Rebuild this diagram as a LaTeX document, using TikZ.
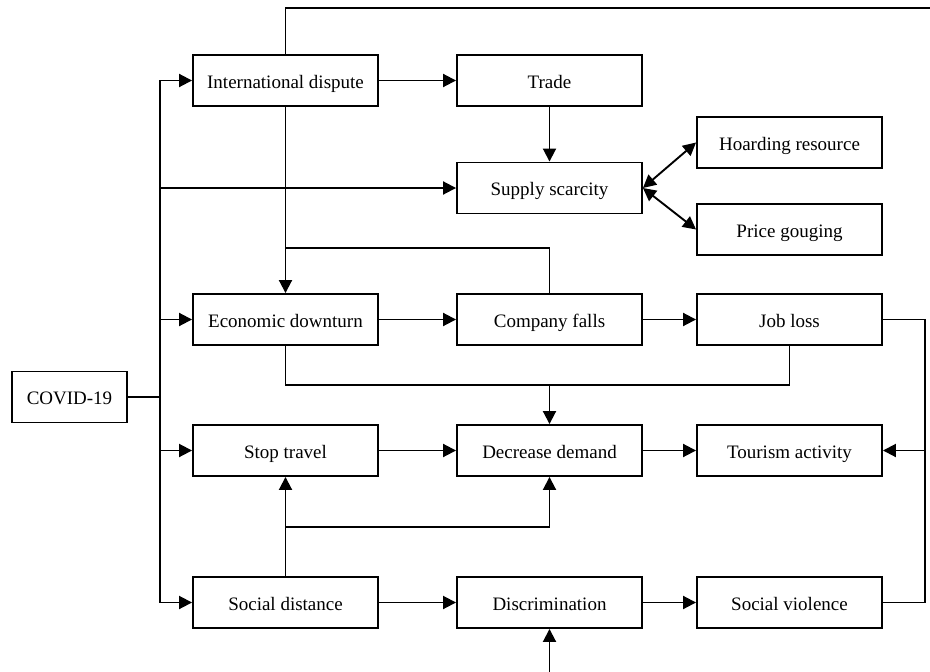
\documentclass[tikz,border=0pt]{standalone}
\usepackage{fontspec}
\setmainfont{Liberation Serif}
\usetikzlibrary{arrows.meta}

\tikzset{
    box/.style={draw, line width=1.9pt, minimum width=185pt, minimum height=51pt, inner sep=0pt, text height=15pt, text depth=0pt, font=\fontsize{19}{22}\selectfont},
    link/.style={line width=1.9pt},
    arr/.style={link, -{Triangle[length=13pt, width=13pt]}},
    darr/.style={link, {Triangle[length=13pt, width=13pt]}-{Triangle[length=13pt, width=13pt]}},
}

\begin{document}
\begin{tikzpicture}[x=1pt, y=-1pt]
    \useasboundingbox (0,0) rectangle (930,672);

    \def\xa{285.5};
    \def\xb{549.5};
    \def\xc{789.5};

    \def\ya{80.5};
    \def\yb{188};
    \def\yc{319.5};
    \def\yd{450.5};
    \def\ye{602.5};

% boxes

    \node[box, minimum width=115pt] (covid) at (69.5, 397) {COVID-19};

    \node[box] (intl) at (\xa, \ya) {International dispute};
    \node[box] (trade) at (\xb, \ya) {Trade};
    \node[box] (supply) at (\xb, \yb) {Supply scarcity};
    \node[box] (hoard) at (\xc, 142.5) {Hoarding resource};
    \node[box] (price) at (\xc, 229.5) {Price gouging};

    \node[box] (econ) at (\xa, \yc) {Economic downturn};
    \node[box] (company) at (\xb, \yc) {Company falls};
    \node[box] (job) at (\xc, \yc) {Job loss};

    \node[box] (stop) at (\xa, \yd) {Stop travel};
    \node[box] (demand) at (\xb, \yd) {Decrease demand};
    \node[box] (tourism) at (\xc, \yd) {Tourism activity};

    \node[box] (social) at (\xa, \ye) {Social distance};
    \node[box] (discrim) at (\xb, \ye) {Discrimination};
    \node[box] (violence) at (\xc, \ye) {Social violence};

% left trunk

    \coordinate (trunk) at (160, 397);
    \draw[link] (covid.east) -- (trunk);
    \draw[arr] (trunk) |- (intl.west);
    \draw[arr] (trunk) |- (supply.west);
    \draw[arr] (trunk) |- (econ.west);
    \draw[arr] (trunk) |- (stop.west);
    \draw[arr] (trunk) |- (social.west);

% top rows

    \coordinate (topend) at (930, 8);
    \draw[link] (intl.north) |- (topend);
    \draw[arr] (intl) -- (trade);
    \draw[arr] (trade) -- (supply);
    \draw[arr] (intl.south) -- (econ.north);
    \draw[darr] (supply.east) -- (hoard.west);
    \draw[darr] (supply.east) -- (price.west);

    \coordinate (cfjoin) at (\xa, 248);
    \draw[link] (company.north) |- (cfjoin);

% middle rows

    \draw[arr] (econ) -- (company);
    \draw[arr] (company) -- (job);

    \coordinate (ddjoin) at (\xb, 385);
    \draw[link] (econ.south) |- (ddjoin) -| (job.south);
    \draw[arr] (ddjoin) -- (demand.north);

    \draw[arr] (stop) -- (demand);
    \draw[arr] (demand) -- (tourism);

    \coordinate (rtrunk) at (925, \yd);
    \draw[link] (job.east) -| (rtrunk) |- (violence.east);
    \draw[arr] (rtrunk) -- (tourism.east);

% bottom row

    \coordinate (sdjoin) at (\xa, 527);
    \draw[arr] (social.north) -- (stop.south);
    \draw[arr] (sdjoin) -| (demand.south);

    \draw[arr] (social) -- (discrim);
    \draw[arr] (discrim) -- (violence);

    \coordinate (botend) at (\xb, 672);
    \draw[arr] (botend) -- (discrim.south);

\end{tikzpicture}
\end{document}
